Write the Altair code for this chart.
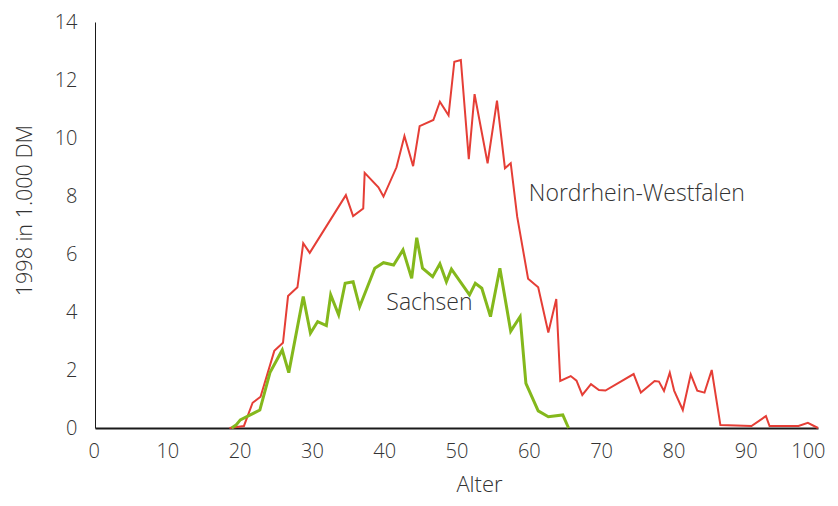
import altair as alt
import pandas as pd

# Nordrhein-Westfalen (red)
nrw_age = [18.6, 20.6, 21.8, 22.9, 24.8, 26.0, 26.7, 28.0, 28.8, 29.7, 34.7, 35.7, 37.1, 37.3,
           39.2, 39.9, 41.7, 42.8, 44.0, 44.9, 46.8, 47.7, 48.9, 49.7, 50.6, 51.7, 52.5, 54.3,
           55.6, 56.7, 57.5, 58.4, 59.9, 61.3, 62.7, 63.8, 64.35, 65.8, 66.6, 67.4, 68.6, 69.7,
           70.6, 74.5, 75.5, 77.4, 78.0, 78.7, 79.5, 80.1, 81.3, 82.4, 83.3, 84.3, 85.3, 86.5,
           90.8, 92.8, 93.3, 97.3, 98.6, 100.0]
nrw_val = [0.0, 0.07, 0.87, 1.08, 2.66, 2.94, 4.55, 4.85, 6.37, 6.04, 8.03, 7.31, 7.57, 8.8,
           8.30, 7.98, 8.99, 10.07, 9.03, 10.41, 10.62, 11.25, 10.78, 12.63, 12.69, 9.27, 11.51, 9.13,
           11.29, 8.96, 9.13, 7.28, 5.15, 4.85, 3.29, 4.45, 1.62, 1.79, 1.63, 1.14, 1.51, 1.31,
           1.29, 1.86, 1.22, 1.62, 1.60, 1.28, 1.91, 1.29, 0.62, 1.85, 1.29, 1.22, 2.0, 0.10,
           0.07, 0.41, 0.07, 0.07, 0.18, 0.0]

# Sachsen (green)
sn_age = [18.9, 19.5, 20.1, 22.8, 24.2, 25.9, 26.8, 28.8, 29.8, 30.8, 32.0, 32.6, 33.7, 34.6,
          35.7, 36.6, 38.7, 39.9, 41.3, 42.6, 43.8, 44.5, 45.3, 46.7, 47.7, 48.6, 49.3, 51.8,
          52.6, 53.5, 54.7, 56.0, 57.5, 58.8, 59.6, 61.3, 62.7, 64.7, 65.5]
sn_val = [0.0, 0.10, 0.28, 0.62, 1.91, 2.69, 1.91, 4.53, 3.27, 3.67, 3.53, 4.59, 3.90, 4.99,
          5.04, 4.18, 5.51, 5.70, 5.62, 6.14, 5.16, 6.56, 5.51, 5.22, 5.66, 5.04, 5.48, 4.59,
          4.99, 4.82, 3.84, 5.51, 3.34, 3.84, 1.54, 0.59, 0.39, 0.45, 0.0]

label_text = ["Nordrhein-Westfalen", "Sachsen"]
label_age = [60.0, 40.3]
label_val = [8.07, 4.3]

FONT = "Open Sans"
TXT = "#333333"

nrw = pd.DataFrame({"Alter": nrw_age, "Wert": nrw_val})
sn = pd.DataFrame({"Alter": sn_age, "Wert": sn_val})
labels = pd.DataFrame({"Alter": label_age, "Wert": label_val, "t": label_text})

x = alt.X("Alter:Q", scale=alt.Scale(domain=[0, 100], nice=False, zero=False),
          axis=alt.Axis(title="Alter", values=list(range(0, 101, 10)), grid=False, ticks=False,
                        labelFlush=True, labelFlushOffset=7,
                        domainColor="#1a1a1a", domainWidth=2, labelPadding=13,
                        labelFontSize=20, labelFont=FONT, labelFontWeight=300, labelColor=TXT,
                        titleFontSize=22, titleFont=FONT, titleFontWeight=300, titleColor=TXT,
                        titleBaseline="alphabetic", titleX=384, titleY=63))
y = alt.Y("Wert:Q", scale=alt.Scale(domain=[0, 14], nice=False),
          axis=alt.Axis(title="1998 in 1.000 DM", values=list(range(0, 15, 2)), grid=False,
                        ticks=False, domainColor="#1a1a1a", domainWidth=1, labelPadding=18,
                        labelOffset=0, labelFlush=False,
                        labelFontSize=20, labelFont=FONT, labelFontWeight=300, labelColor=TXT,
                        titleFontSize=21.5, titleFont=FONT, titleFontWeight=300, titleColor=TXT,
                        titlePadding=18, titleY=188))

red = alt.Chart(nrw).mark_line(color="#E53E36", strokeWidth=2).encode(x=x, y=y)
green = alt.Chart(sn).mark_line(color="#84B81C", strokeWidth=3).encode(x=x, y=y)
txt = alt.Chart(labels).mark_text(align="left", baseline="middle", fontSize=23, font=FONT,
                                  fontWeight=300, color=TXT).encode(x=x, y=y, text="t:N")

chart = alt.layer(red, green, txt).properties(
    width=723, height=406,
    autosize=alt.AutoSizeParams(type="none"),
    padding={"left": 87, "top": 14, "right": 12, "bottom": 70},
).configure_view(stroke=None)

chart.save("out.html", embed_options={"renderer": "svg", "actions": False})
